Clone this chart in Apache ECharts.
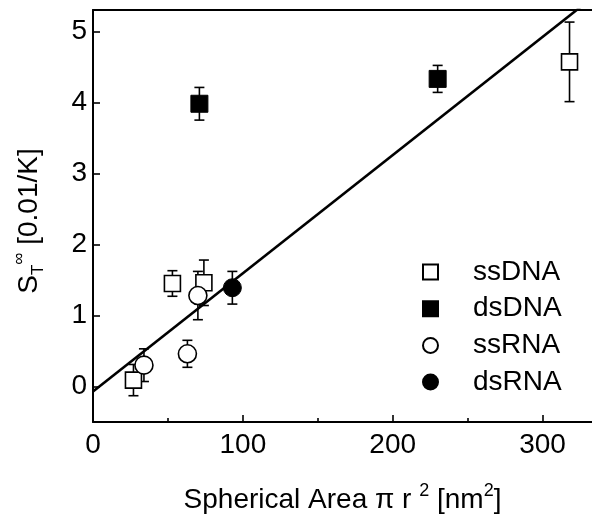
<!DOCTYPE html>
<html>
<head>
<meta charset="utf-8">
<script src="https://cdn.jsdelivr.net/npm/echarts@6/dist/echarts.min.js"></script>
<style>html,body{margin:0;padding:0;background:#fff;}#c{width:592px;height:516px;}</style>
</head>
<body>
<div id="c"></div>
<script>
// ---- data ----
const ssDNA_x = [27, 53, 74, 318];
const ssDNA_y = [0.09, 1.45, 1.46, 4.57];
const ssDNA_err = [0.22, 0.18, 0.32, 0.56];

const dsDNA_x = [71, 230];
const dsDNA_y = [3.98, 4.33];
const dsDNA_err = [0.23, 0.19];

const ssRNA_x = [34, 63, 70];
const ssRNA_y = [0.30, 0.46, 1.28];
const ssRNA_err = [0.23, 0.19, 0.34];

const dsRNA_x = [93];
const dsRNA_y = [1.39];
const dsRNA_err = [0.23];

const fit_x = [0, 333];
const fit_y = [-0.07, 5.47];

const xMajorTicks = [0, 100, 200, 300];
const xMinorTicks = [50, 150, 250];
const yTicks = [0, 1, 2, 3, 4, 5];
const legendNames = ['ssDNA', 'dsDNA', 'ssRNA', 'dsRNA'];

// ---- helpers ----
const FONT = 'Liberation Sans';
const zip = (xs, ys) => xs.map((x, i) => [x, ys[i]]);
const zip3 = (xs, ys, es) => xs.map((x, i) => [x, ys[i], es[i]]);

function errRender(params, api) {
  const x = api.value(0), y = api.value(1), e = api.value(2);
  const hi = api.coord([x, y + e]);
  const lo = api.coord([x, y - e]);
  const w = 5;
  const st = { stroke: '#000', lineWidth: 1.6 };
  return {
    type: 'group',
    children: [
      { type: 'line', shape: { x1: hi[0], y1: hi[1], x2: lo[0], y2: lo[1] }, style: st },
      { type: 'line', shape: { x1: hi[0] - w, y1: hi[1], x2: hi[0] + w, y2: hi[1] }, style: st },
      { type: 'line', shape: { x1: lo[0] - w, y1: lo[1], x2: lo[0] + w, y2: lo[1] }, style: st }
    ]
  };
}
function errSeries(xs, ys, es) {
  return {
    type: 'custom', renderItem: errRender, data: zip3(xs, ys, es),
    encode: { x: 0, y: 1 }, z: 3, silent: true, clip: false
  };
}

const openStyle = { color: '#fff', borderColor: '#000', borderWidth: 1.6, opacity: 1 };
const fillStyle = { color: '#000', borderColor: '#000', borderWidth: 1, opacity: 1 };

const chart = echarts.init(document.getElementById('c'));
chart.setOption({
  animation: false,
  backgroundColor: '#fff',
  textStyle: { fontFamily: FONT, color: '#000' },
  grid: { left: 93, right: 0, top: 10, bottom: 94, containLabel: false, outerBoundsMode: 'none' },
  legend: {
    data: legendNames,
    orient: 'vertical',
    left: 417, top: 252,
    itemWidth: 15, itemHeight: 15, itemGap: 6.7,
    textStyle: { fontFamily: FONT, fontSize: 28, color: '#000', lineHeight: 30, padding: [0, 0, 0, 30] }
  },
  xAxis: [
    {
      type: 'value', min: 0, max: 333, position: 'bottom',
      name: '{a|Spherical Area π r }{sup|2}{a| [nm}{sup|2}{a|]}',
      nameLocation: 'middle', nameGap: 60,
      nameTextStyle: {
        rich: {
          a: { fontFamily: FONT, fontSize: 28, color: '#000', lineHeight: 36 },
          sup: { fontFamily: FONT, fontSize: 18, color: '#000', lineHeight: 22, verticalAlign: 'top' }
        }
      },
      axisLine: { show: true, onZero: false, lineStyle: { color: '#000', width: 2 } },
      axisTick: { show: true, inside: true, length: 7, lineStyle: { color: '#000', width: 1.6 }, customValues: xMajorTicks },
      axisLabel: { fontFamily: FONT, fontSize: 28, color: '#000', margin: 9, customValues: xMajorTicks },
      splitLine: { show: false }
    },
    {
      type: 'value', min: 0, max: 333, position: 'bottom',
      axisLine: { show: false, onZero: false },
      axisTick: { show: true, inside: true, length: 4, lineStyle: { color: '#000', width: 1.6 }, customValues: xMinorTicks },
      axisLabel: { show: false },
      splitLine: { show: false }
    },
    {
      type: 'value', min: 0, max: 333, position: 'top',
      axisLine: { show: true, onZero: false, lineStyle: { color: '#000', width: 2 } },
      axisTick: { show: false }, axisLabel: { show: false }, splitLine: { show: false }
    }
  ],
  yAxis: {
    type: 'value', min: -0.5, max: 5.3, minInterval: 1, maxInterval: 1,
    name: '{s|S}{sub|T}{sup|∞}{a| [0.01/K]}',
    nameLocation: 'middle', nameGap: 46, nameRotate: 90,
    nameTextStyle: {
      rich: {
        s: { fontFamily: FONT, fontSize: 28, color: '#000', lineHeight: 36 },
        a: { fontFamily: FONT, fontSize: 28, color: '#000', lineHeight: 36, padding: [0, 10, 0, 0] },
        sub: { fontFamily: FONT, fontSize: 17, color: '#000', lineHeight: 20, verticalAlign: 'bottom' },
        sup: { fontFamily: FONT, fontSize: 17, color: '#000', lineHeight: 20, verticalAlign: 'top' }
      }
    },
    axisLine: { show: true, onZero: false, lineStyle: { color: '#000', width: 2 } },
    axisTick: { show: true, inside: true, length: 7, lineStyle: { color: '#000', width: 1.6 }, customValues: yTicks },
    axisLabel: { fontFamily: FONT, fontSize: 28, color: '#000', margin: 6, customValues: yTicks },
    splitLine: { show: false }
  },
  series: [
    {
      name: 'fit', type: 'line', data: zip(fit_x, fit_y), showSymbol: false, symbol: 'none',
      lineStyle: { color: '#000', width: 2.6 }, z: 2, clip: true, silent: true
    },
    errSeries(ssDNA_x, ssDNA_y, ssDNA_err),
    errSeries(dsDNA_x, dsDNA_y, dsDNA_err),
    errSeries(ssRNA_x, ssRNA_y, ssRNA_err),
    errSeries(dsRNA_x, dsRNA_y, dsRNA_err),
    { name: 'ssDNA', type: 'scatter', symbol: 'rect', symbolSize: 16, data: zip(ssDNA_x, ssDNA_y), itemStyle: openStyle, z: 5 },
    { name: 'dsDNA', type: 'scatter', symbol: 'rect', symbolSize: 17, data: zip(dsDNA_x, dsDNA_y), itemStyle: fillStyle, z: 5 },
    { name: 'ssRNA', type: 'scatter', symbol: 'circle', symbolSize: 18, data: zip(ssRNA_x, ssRNA_y), itemStyle: openStyle, z: 5 },
    { name: 'dsRNA', type: 'scatter', symbol: 'circle', symbolSize: 18, data: zip(dsRNA_x, dsRNA_y), itemStyle: fillStyle, z: 5 }
  ]
});
</script>
</body>
</html>
